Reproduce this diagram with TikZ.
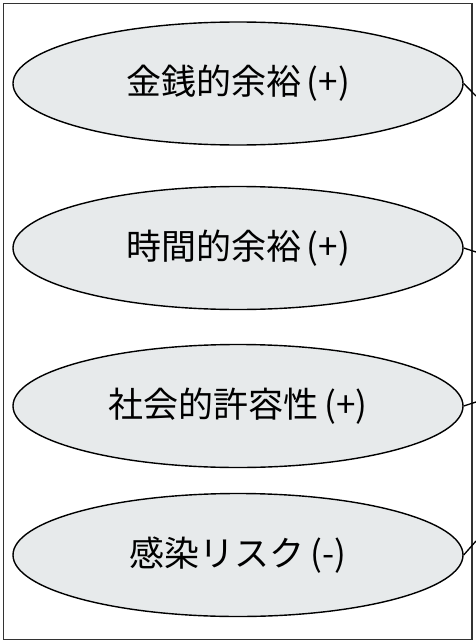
\documentclass[tikz,border=0pt]{standalone}
\usepackage{fontspec}
\newfontfamily\jp{Noto Sans CJK JP}
\usetikzlibrary{shapes.geometric}
\definecolor{ellfill}{HTML}{E7EAEB}
\definecolor{framecol}{HTML}{333333}
\tikzset{
  factor/.style={ellipse, draw=black, line width=1.4pt, fill=ellfill,
    minimum width=450pt, minimum height=123pt, inner sep=0pt,
    font=\jp\fontsize{35pt}{40pt}\selectfont},
  link/.style={draw=black, line width=1.3pt}
}
\begin{document}
\begin{tikzpicture}[x=1pt,y=-1pt]
\useasboundingbox (0,0) rectangle (475,642);
\draw[framecol, line width=1.6pt] (3.5,3.5) rectangle (472,639.5);
\node[factor] (e1) at (238,83.5) {金銭的余裕\,(+)};
\node[factor] (e2) at (238,248) {時間的余裕\,(+)};
\node[factor] (e3) at (238,406) {社会的許容性\,(+)};
\node[factor] (e4) at (238,555) {感染リスク\,(-)};
\coordinate (o1) at (476,96);
\coordinate (o2) at (476,252);
\coordinate (o3) at (476,402);
\coordinate (o4) at (476,541);
\draw[link] (e1.east) -- (o1);
\draw[link] (e2.east) -- (o2);
\draw[link] (e3.east) -- (o3);
\draw[link] (e4.east) -- (o4);
\end{tikzpicture}
\end{document}
